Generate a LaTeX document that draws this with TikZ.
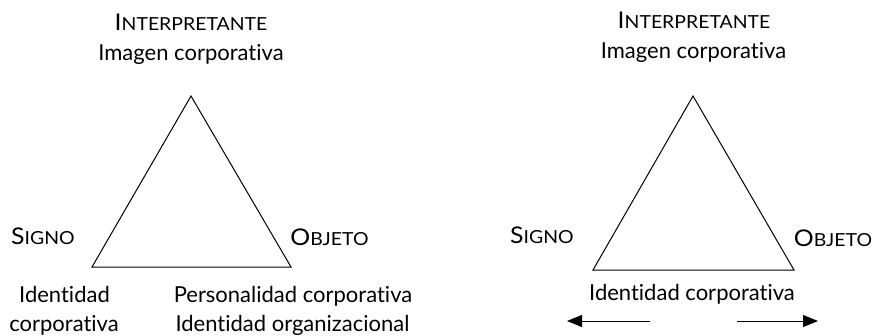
\documentclass[tikz,border=0pt]{standalone}
\usepackage{fontspec}
\setmainfont{Lato}[Ligatures=NoCommon]
\newfontfamily\scfont{Lato}[FakeStretch=1.08]
\usetikzlibrary{arrows.meta}
\newcommand\mysc[2]{{\scfont\fontsize{23}{23}\selectfont #1\fontsize{18}{18}\selectfont #2}}
\tikzset{
  lbl/.style={anchor=base, inner sep=0pt, font=\fontsize{22}{22}\selectfont},
  tri/.style={draw=black, line width=1pt, line join=miter},
  arr/.style={draw=black, line width=1pt, -{Triangle[length=15pt,width=12pt]}}
}
\begin{document}
\begin{tikzpicture}[x=1pt,y=-1pt]
\useasboundingbox (0,0) rectangle (873,335);
% left triangle
\coordinate (la) at (191,96);
\coordinate (lb) at (92,267);
\coordinate (lc) at (291,267);
\draw[tri] (la) -- (lb) -- (lc) -- cycle;
\node[lbl] (li) at (191,30.5) {\mysc{I}{NTERPRETANTE}};
\node[lbl] (lim) at (191,60) {Imagen corporativa};
\node[lbl] (ls) at (43,244) {\mysc{S}{IGNO}};
\node[lbl] (lo) at (329.5,245) {\mysc{O}{BJETO}};
\node[lbl] (lid1) at (64.5,302) {Identidad};
\node[lbl] (lid2) at (64,331) {corporativa};
\node[lbl] (lp1) at (293,302) {Personalidad corporativa};
\node[lbl] (lp2) at (292.5,331) {Identidad organizacional};
% right triangle
\coordinate (ra) at (693,96);
\coordinate (rb) at (593,270);
\coordinate (rc) at (794,270);
\draw[tri] (ra) -- (rb) -- (rc) -- cycle;
\node[lbl] (ri) at (694,28) {\mysc{I}{NTERPRETANTE}};
\node[lbl] (rim) at (693.5,58) {Imagen corporativa};
\node[lbl] (rs) at (542,243) {\mysc{S}{IGNO}};
\node[lbl] (ro) at (833,246) {\mysc{O}{BJETO}};
\node[lbl] (rid) at (692,300) {Identidad corporativa};
\coordinate (a1s) at (650,321);
\coordinate (a1e) at (567,321);
\coordinate (a2s) at (737,321);
\coordinate (a2e) at (818,321);
\draw[arr] (a1s) -- (a1e);
\draw[arr] (a2s) -- (a2e);
\end{tikzpicture}
\end{document}
